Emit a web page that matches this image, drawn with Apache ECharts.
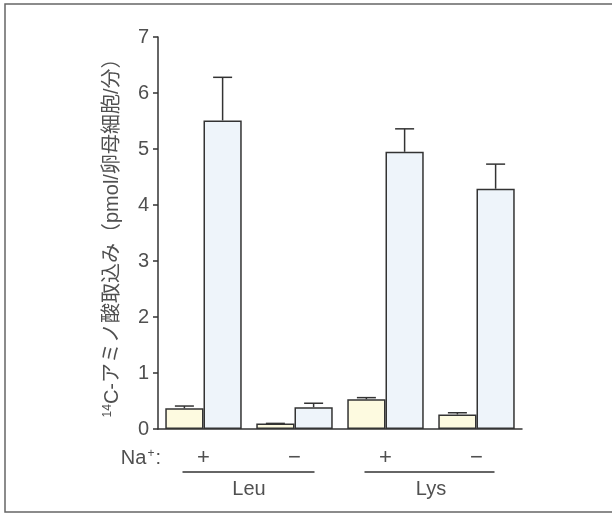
<!DOCTYPE html>
<html>
<head>
<meta charset="utf-8">
<script src="https://cdn.jsdelivr.net/npm/echarts@6/dist/echarts.min.js"></script>
<style>
html,body{margin:0;padding:0;background:#fff;}
#chart{width:612px;height:515px;}
</style>
</head>
<body>
<div id="chart"></div>
<script>
// Data
var naLabels = ['+', '\u2212', '+', '\u2212'];
var groups = ['Leu', 'Lys'];
var yTicks = [0, 1, 2, 3, 4, 5, 6, 7];
var yellowValues = [0.37, 0.10, 0.53, 0.26];
var yellowErrors = [0.41, 0.10, 0.56, 0.29];
var blueValues = [5.51, 0.39, 4.95, 4.29];
var blueErrors = [6.28, 0.46, 5.36, 4.73];

var textColor = '#505050';
var fontFam = '"Liberation Sans", "Noto Sans CJK JP", sans-serif';
var BAR_FRAC = 0.42;

function errSeries(tops, vals, side) {
  return {
    type: 'custom',
    z: 5,
    data: tops.map(function (t, i) { return [i, vals[i], t]; }),
    renderItem: function (params, api) {
      var i = api.value(0);
      var base = api.coord([i, api.value(1)]);
      var top = api.coord([i, api.value(2)]);
      var cw = api.size([1, 0])[0];
      var x = base[0] + side * cw * BAR_FRAC / 2;
      var half = 9.5;
      var st = { stroke: '#333', lineWidth: 1.5 };
      return {
        type: 'group',
        children: [
          { type: 'line', shape: { x1: x, y1: base[1], x2: x, y2: top[1] }, style: st },
          { type: 'line', shape: { x1: x - half, y1: top[1], x2: x + half, y2: top[1] }, style: st }
        ]
      };
    }
  };
}

var chart = echarts.init(document.getElementById('chart'));
chart.setOption({
  animation: false,
  backgroundColor: '#fff',
  grid: { left: 158, right: 90, top: 37, bottom: 86, containLabel: false },
  xAxis: {
    type: 'category',
    data: naLabels,
    axisLine: { show: true, onZero: false, lineStyle: { color: '#333', width: 1.5 } },
    axisTick: { show: false },
    axisLabel: { show: true, margin: 18, color: textColor, fontSize: 22, fontFamily: fontFam }
  },
  yAxis: {
    type: 'value',
    min: yTicks[0],
    max: yTicks[yTicks.length - 1],
    interval: 1,
    splitLine: { show: false },
    axisLine: { show: true, lineStyle: { color: '#333', width: 1.5 } },
    axisTick: { show: true, length: 5, lineStyle: { color: '#333', width: 1.5 } },
    axisLabel: { margin: 9, color: textColor, fontSize: 20, fontFamily: fontFam },
    name: '{sup|14}C-アミノ酸取込み（pmol/卵母細胞/分）',
    nameLocation: 'middle',
    nameGap: 35,
    nameRotate: 90,
    nameTextStyle: {
      color: textColor, fontSize: 20, fontFamily: fontFam,
      rich: {
        sup: { fontSize: 12, color: textColor, fontFamily: fontFam, verticalAlign: 'top', padding: [0, 0, 9, 0] }
      }
    }
  },
  series: [
    {
      type: 'bar', data: yellowValues, barWidth: (BAR_FRAC * 100) + '%', barGap: '0%',
      itemStyle: { color: '#fdfae0', borderColor: '#333', borderWidth: 1.5 }
    },
    {
      type: 'bar', data: blueValues, barWidth: (BAR_FRAC * 100) + '%', barGap: '0%',
      itemStyle: { color: '#eef4fa', borderColor: '#333', borderWidth: 1.5 }
    },
    errSeries(yellowErrors, yellowValues, -1),
    errSeries(blueErrors, blueValues, 1)
  ]
});

// annotation graphics positioned from the axis scale
var p0 = chart.convertToPixel({ xAxisIndex: 0 }, 0);
var p1 = chart.convertToPixel({ xAxisIndex: 0 }, 1);
var p2 = chart.convertToPixel({ xAxisIndex: 0 }, 2);
var p3 = chart.convertToPixel({ xAxisIndex: 0 }, 3);
var lineY = 472;
var ls = { stroke: '#333', lineWidth: 1.5 };
chart.setOption({
  graphic: [
    { type: 'rect', shape: { x: 5, y: 4, width: 700, height: 508 }, style: { fill: null, stroke: '#666', lineWidth: 1.5 }, silent: true },
    { type: 'line', shape: { x1: p0 - 21, y1: lineY, x2: p1 + 20, y2: lineY }, style: ls },
    { type: 'line', shape: { x1: p2 - 21, y1: lineY, x2: p3 + 18, y2: lineY }, style: ls },
    { type: 'text', x: (p0 + p1) / 2, y: 489, style: { text: groups[0], fill: textColor, font: '20px ' + fontFam, textAlign: 'center', textVerticalAlign: 'middle' } },
    { type: 'text', x: (p2 + p3) / 2, y: 489, style: { text: groups[1], fill: textColor, font: '20px ' + fontFam, textAlign: 'center', textVerticalAlign: 'middle' } },
    { type: 'text', x: 161, y: 458, style: {
        text: 'Na{sup|+}:', fill: textColor, font: '20px ' + fontFam, textAlign: 'right', textVerticalAlign: 'middle',
        rich: { sup: { fontSize: 12, fill: textColor, verticalAlign: 'top', padding: [0, 1, 9, 1] } }
      } }
  ]
});
</script>
</body>
</html>
